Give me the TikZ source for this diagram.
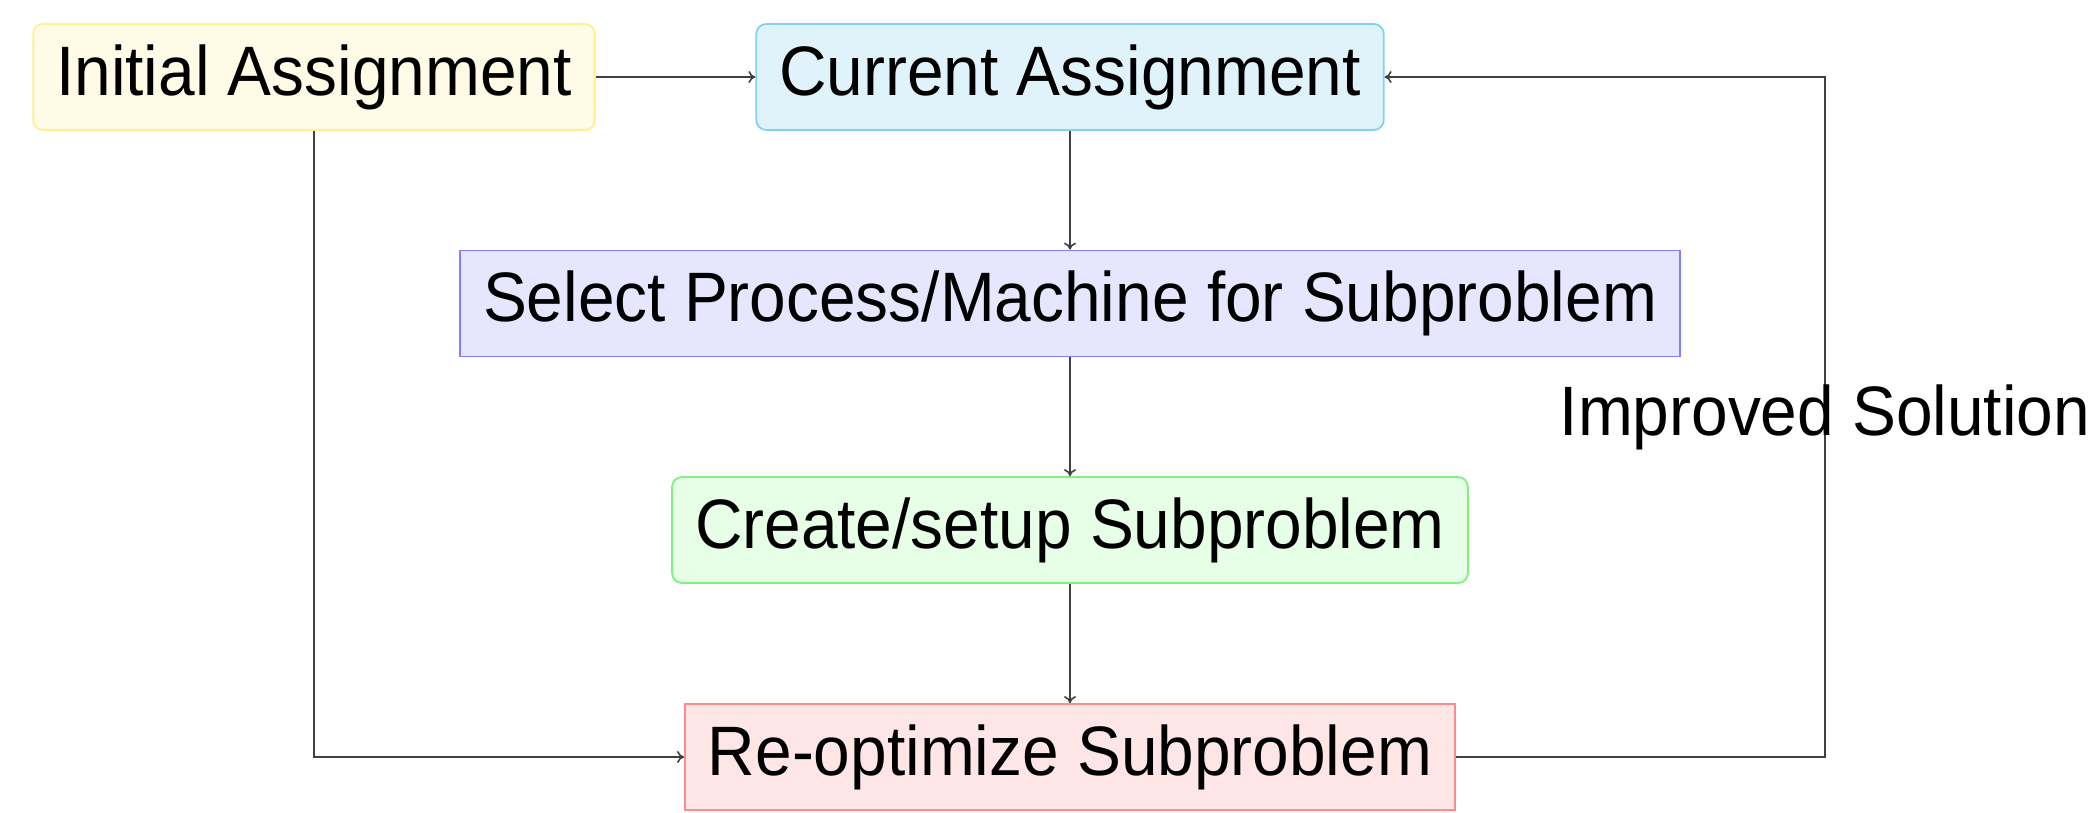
\documentclass[tikz,border=0pt]{standalone}
\usepackage{fontspec}
\setmainfont[FakeStretch=0.94]{Liberation Sans}
\usetikzlibrary{arrows.meta}
\definecolor{yfill}{HTML}{FFFBE6}
\definecolor{ydraw}{HTML}{FFF08A}
\definecolor{cfill}{HTML}{E1F3FA}
\definecolor{cdraw}{HTML}{80D4F2}
\definecolor{bfill}{HTML}{E6E6FF}
\definecolor{bdraw}{HTML}{8080FF}
\definecolor{gfill}{HTML}{E6FFE6}
\definecolor{gdraw}{HTML}{80F080}
\definecolor{rfill}{HTML}{FFE6E6}
\definecolor{rdraw}{HTML}{FF8C8C}
\tikzset{
  box/.style={draw, line width=1.8pt, inner xsep=23pt, minimum height=106pt,
    font=\fontsize{70pt}{84pt}\selectfont},
  rbox/.style={box, rounded corners=10pt},
  arr/.style={draw=black!75, line width=1.6pt, -{To[length=7pt,width=12pt]}},
  lbl/.style={font=\fontsize{70pt}{84pt}\selectfont, inner sep=0pt}
}
\begin{document}
\begin{tikzpicture}[x=1pt,y=-1pt]
\useasboundingbox (0,0) rectangle (2090,812);
\node[rbox, fill=yfill, draw=ydraw] (init) at (314,77) {Initial Assignment};
\node[rbox, fill=cfill, draw=cdraw] (cur) at (1070,77) {Current Assignment};
\node[box, fill=bfill, draw=bdraw] (sel) at (1070,303.5) {Select Process/Machine for Subproblem};
\node[rbox, fill=gfill, draw=gdraw] (cre) at (1070,530) {Create/setup Subproblem};
\node[box, fill=rfill, draw=rdraw] (reo) at (1070,757) {Re-optimize Subproblem};
\coordinate (fb) at (1825,0);
\draw[arr] (init.east) -- (cur.west);
\draw[arr] (cur.south) -- (sel.north);
\draw[arr] (sel.south) -- (cre.north);
\draw[arr] (cre.south) -- (reo.north);
\draw[arr] (init.south) |- (reo.west);
\draw[arr] (reo.east) -- (reo.east -| fb) -- node[lbl] {Improved Solution} (cur.east -| fb) -- (cur.east);
\end{tikzpicture}
\end{document}
